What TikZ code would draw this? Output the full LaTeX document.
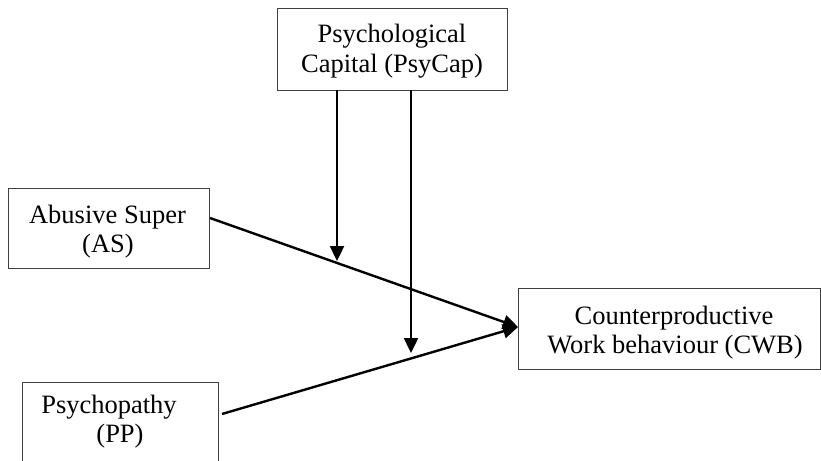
\documentclass[tikz,border=0pt]{standalone}
\usepackage{fontspec}
\setmainfont{Liberation Serif}
\usetikzlibrary{arrows.meta}
\begin{document}
\begin{tikzpicture}[x=1pt,y=-1pt,
  boxstyle/.style={draw=black!75,line width=1pt,fill=white},
  txt/.style={anchor=base,inner sep=0pt,font=\fontsize{26.5}{30}\selectfont},
  conn/.style={line width=2.4pt,-{Triangle[length=15pt,width=14pt]}}]
\useasboundingbox (0,0) rectangle (821,460);
\fill[white] (0,0) rectangle (821,460);
% boxes
\node[boxstyle,minimum width=230pt,minimum height=81pt,inner sep=0pt] (psy) at (392,49.5) {};
\node[boxstyle,minimum width=201pt,minimum height=80pt,inner sep=0pt] (as) at (108.5,228) {};
\node[boxstyle,minimum width=302pt,minimum height=81pt,inner sep=0pt] (cwb) at (669,328.5) {};
\node[boxstyle,minimum width=196pt,minimum height=84pt,inner sep=0pt] (pp) at (120,424) {};
% texts
\node[txt] (psyA) at (392,42) {Psychological};
\node[txt] (psyB) at (392,73) {Capital (PsyCap)};
\node[txt] (asA) at (107.5,223) {Abusive Super};
\node[txt] (asB) at (108,252) {(AS)};
\node[txt] (cwbA) at (674,324) {Counterproductive};
\node[txt] (cwbB) at (675,353) {Work behaviour (CWB)};
\node[txt] (ppA) at (109,413) {Psychopathy};
\node[txt] (ppB) at (120,442) {(PP)};
% connector endpoints
\coordinate (tip) at (518,327);
\coordinate (asOut) at (210,218);
\coordinate (ppOut) at (222,414);
\coordinate (v1s) at (337,90);
\coordinate (v1e) at (337,261);
\coordinate (v2s) at (411,90);
\coordinate (v2e) at (411,353);
\draw[conn] (asOut) -- (tip);
\draw[conn] (ppOut) -- (tip);
\draw[conn] (v1s) -- (v1e);
\draw[conn] (v2s) -- (v2e);
\end{tikzpicture}
\end{document}
